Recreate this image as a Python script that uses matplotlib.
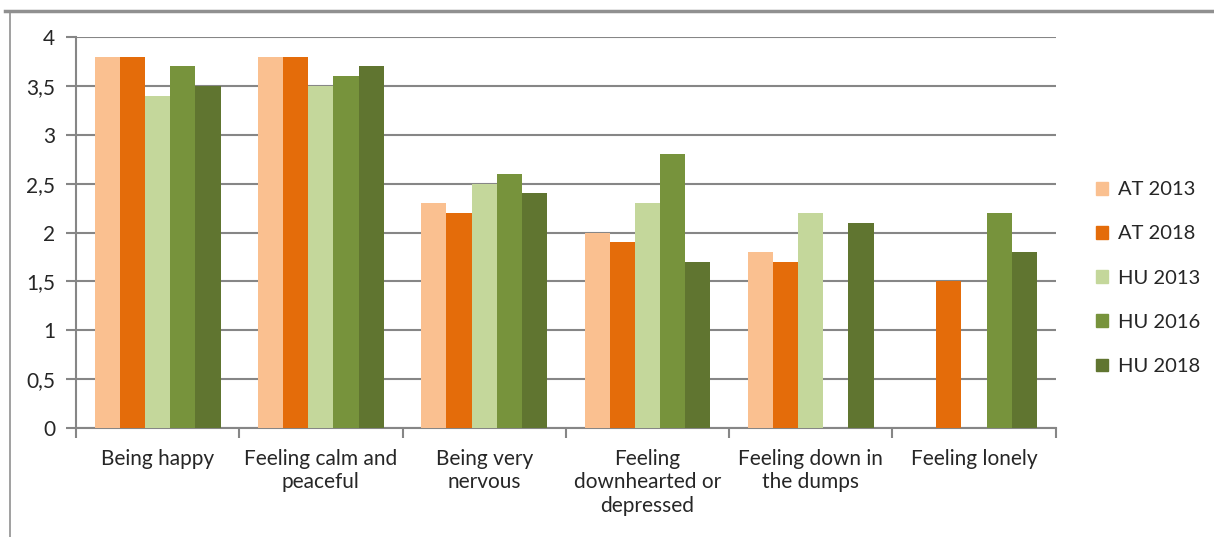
import matplotlib
matplotlib.use("Agg")
import matplotlib.pyplot as plt
from matplotlib.lines import Line2D
from matplotlib.patches import Patch
import numpy as np

categories = [
    "Being happy",
    "Feeling calm and\npeaceful",
    "Being very\nnervous",
    "Feeling\ndownhearted or\ndepressed",
    "Feeling down in\nthe dumps",
    "Feeling lonely",
]
series = ["AT 2013", "AT 2018", "HU 2013", "HU 2016", "HU 2018"]
at_2013 = [3.8, 3.8, 2.3, 2.0, 1.8, np.nan]
at_2018 = [3.8, 3.8, 2.2, 1.9, 1.7, 1.5]
hu_2013 = [3.4, 3.5, 2.5, 2.3, 2.2, np.nan]
hu_2016 = [3.7, 3.6, 2.6, 2.8, np.nan, 2.2]
hu_2018 = [3.5, 3.7, 2.4, 1.7, 2.1, 1.8]
colors = ["#FAC090", "#E46C0A", "#C4D79B", "#77933C", "#607530"]
y_ticks = [0, 0.5, 1, 1.5, 2, 2.5, 3, 3.5, 4]
y_labels = ["0", "0,5", "1", "1,5", "2", "2,5", "3", "3,5", "4"]

plt.rcParams["font.family"] = ["Lato", "DejaVu Sans"]
grey = "#868686"
text_col = "#262626"

fig = plt.figure(figsize=(12.14, 5.37), dpi=100)
ax = fig.add_axes([0.0626, 0.203, 0.807, 0.728])

values = [at_2013, at_2018, hu_2013, hu_2016, hu_2018]
x = np.arange(len(categories))
width = 0.77 / len(series)
for i, (name, vals, c) in enumerate(zip(series, values, colors)):
    ax.bar(x + (i - 2) * width, vals, width, color=c, label=name, zorder=3)

ax.set_xlim(-0.5, len(categories) - 0.5)
ax.set_ylim(0, 4)
ax.set_yticks(y_ticks)
ax.set_yticklabels(y_labels)
ax.yaxis.grid(True, color=grey, linewidth=1.5, zorder=0)
ax.set_xticks(x)
ax.set_xticklabels(categories, fontsize=15, color=text_col, linespacing=1.22)
ax.set_xticks(np.arange(len(categories) + 1) - 0.5, minor=True)
ax.tick_params(axis="x", which="major", length=0, pad=15)
ax.tick_params(axis="x", which="minor", length=7, width=1.5, color=grey)
ax.tick_params(axis="y", length=7, width=1.5, color=grey, labelsize=15,
               labelcolor=text_col, pad=8)
for s in ["top", "right"]:
    ax.spines[s].set_visible(False)
for s in ["left", "bottom"]:
    ax.spines[s].set_color(grey)
    ax.spines[s].set_linewidth(1.5)

handles = [Patch(color=c, label=n) for n, c in zip(series, colors)]
leg = fig.legend(handles=handles, loc="center left",
                 bbox_to_anchor=(0.888, 0.482), frameon=False, fontsize=14.5,
                 handlelength=0.6, handleheight=0.6, handletextpad=0.5,
                 labelspacing=1.35)
for t in leg.get_texts():
    t.set_color(text_col)

# outer frame lines from the source page
fig.add_artist(Line2D([0.004, 1.0], [0.979, 0.979], color="#909090",
                      linewidth=2.5, transform=fig.transFigure))
fig.add_artist(Line2D([0.0085, 0.0085], [0.0, 0.979], color="#909090",
                      linewidth=1.2, transform=fig.transFigure))

fig.savefig("out.png", dpi=100)
